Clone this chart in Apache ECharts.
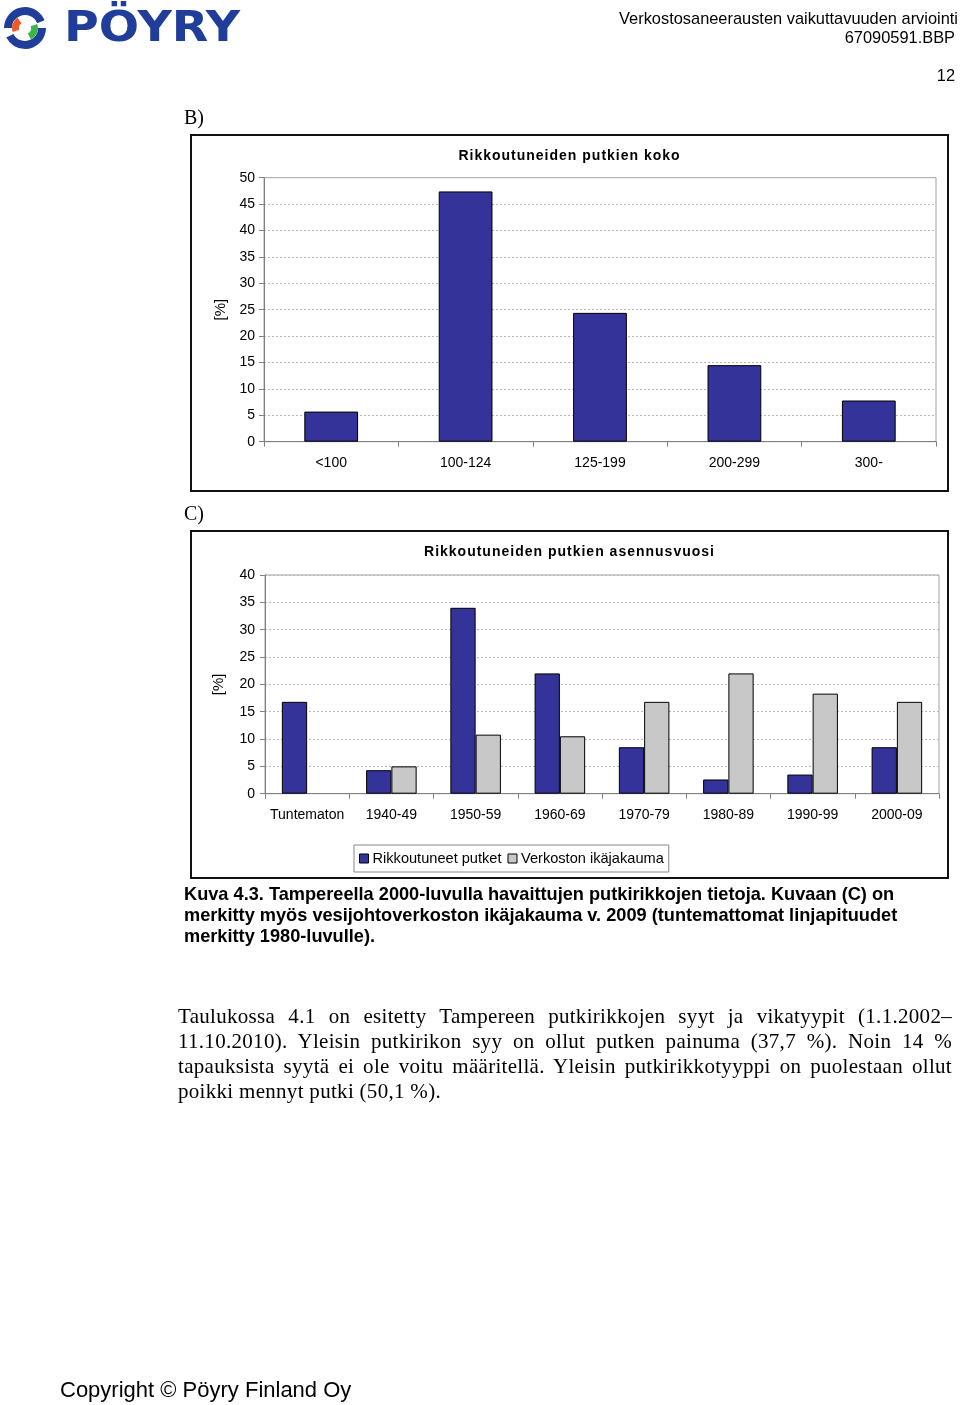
<!DOCTYPE html>
<html>
<head>
<meta charset="utf-8">
<script src="https://cdn.jsdelivr.net/npm/echarts@6/dist/echarts.min.js"></script>
<style>
  html, body { margin: 0; padding: 0; background: #fff; }
  #page { position: relative; width: 960px; height: 1405px; overflow: hidden; }
  #chart { position: absolute; left: 0; top: 0; width: 960px; height: 1405px; }
  .t { position: absolute; white-space: nowrap; color: #000; z-index: 2; }
  .sans { font-family: "Liberation Sans", Arial, sans-serif; }
  .serif { font-family: "Liberation Serif", "Times New Roman", serif; }
  .jl { display: block; width: 774px; text-align: justify; text-align-last: justify; white-space: normal; }
  .jl.last { text-align-last: left; }
  .ct { position: absolute; z-index: 2; font-family: "Liberation Sans", Arial, sans-serif; font-weight: bold; font-size: 14px; line-height: 18px; letter-spacing: 1px; text-align: center; width: 757px; left: 191px; color: #000; }
</style>
</head>
<body>
<div id="page">
  <div id="chart"></div>
  <div class="t sans" style="right:2px;top:8px;font-size:16.4px;line-height:20px;text-align:right;">Verkostosaneerausten vaikuttavuuden arviointi</div>
  <div class="t sans" style="right:5px;top:27px;font-size:16.4px;line-height:20px;text-align:right;">67090591.BBP</div>
  <div class="t sans" style="right:5px;top:65px;font-size:16.4px;line-height:20px;text-align:right;">12</div>
  <div class="t serif" style="left:184px;top:105px;font-size:20px;line-height:24px;">B)</div>
  <div class="t serif" style="left:184px;top:501px;font-size:20px;line-height:24px;">C)</div>
  <div id="titleB" class="ct" style="top:146px;"></div>
  <div id="titleC" class="ct" style="top:542px;"></div>
  <div class="t sans" style="left:184px;top:884px;font-size:18.2px;line-height:21px;font-weight:bold;">Kuva 4.3. Tampereella 2000-luvulla havaittujen putkirikkojen tietoja. Kuvaan (C) on<br>merkitty myös vesijohtoverkoston ikäjakauma v. 2009 (tuntemattomat linjapituudet<br>merkitty 1980-luvulle).</div>
  <div class="t serif" style="left:178px;top:1004px;font-size:21px;line-height:25px;letter-spacing:0.3px;">
    <span class="jl">Taulukossa 4.1 on esitetty Tampereen putkirikkojen syyt ja vikatyypit (1.1.2002–</span>
    <span class="jl">11.10.2010). Yleisin putkirikon syy on ollut putken painuma (37,7 %). Noin 14 %</span>
    <span class="jl">tapauksista syytä ei ole voitu määritellä. Yleisin putkirikkotyyppi on puolestaan ollut</span>
    <span class="jl last">poikki mennyt putki (50,1 %).</span>
  </div>
  <div class="t sans" style="left:60px;top:1377px;font-size:22px;line-height:26px;">Copyright © Pöyry Finland Oy</div>
</div>
<script>
// ---- data ----
const catB = ['<100', '100-124', '125-199', '200-299', '300-'];
const valB = [5.7, 47.4, 24.4, 14.5, 7.8];
const yMinB = 0, yMaxB = 50, yStepB = 5;

const catC = ['Tuntematon', '1940-49', '1950-59', '1960-69', '1970-79', '1980-89', '1990-99', '2000-09'];
const brokenC = [16.8, 4.3, 34.0, 22.0, 8.5, 2.6, 3.5, 8.5];
const networkC = [null, 5.0, 10.8, 10.5, 16.8, 22.0, 18.3, 16.8];
const yMinC = 0, yMaxC = 40, yStepC = 5;

const titleB = 'Rikkoutuneiden putkien koko';
const titleC = 'Rikkoutuneiden putkien asennusvuosi';
const nameBroken = 'Rikkoutuneet putket';
const nameNetwork = 'Verkoston ikäjakauma';
const yName = '[%]';

document.getElementById('titleB').textContent = titleB;
document.getElementById('titleC').textContent = titleC;

// ---- chart ----
const FONT = '"Liberation Sans", Arial, sans-serif';
const BLUE = '#333399';
const GRAY = '#c8c8c8';
const chart = echarts.init(document.getElementById('chart'), null, { renderer: 'canvas' });

function yAx(gi, min, max, step, gap, margin) {
  return {
    type: 'value', gridIndex: gi, min: min, max: max, interval: step,
    name: yName, nameLocation: 'middle', nameRotate: 90, nameGap: gap,
    nameTextStyle: { fontFamily: FONT, fontSize: 15, color: '#000' },
    axisLine: { show: true, lineStyle: { color: '#808080', width: 1 } },
    axisTick: { show: true, length: 5, lineStyle: { color: '#808080' } },
    axisLabel: { fontFamily: FONT, fontSize: 14, color: '#000', margin: margin },
    splitLine: { show: true, lineStyle: { color: '#b8b8b8', type: [2, 2], width: 1 } }
  };
}
function xAx(gi, cats) {
  return {
    type: 'category', gridIndex: gi, data: cats,
    axisLine: { show: true, lineStyle: { color: '#808080', width: 1 } },
    axisTick: { show: true, length: 5, alignWithLabel: false, lineStyle: { color: '#808080' } },
    axisLabel: { fontFamily: FONT, fontSize: 14, color: '#000', margin: 14, interval: 0 }
  };
}

const option = {
  animation: false,
  backgroundColor: '#fff',
  grid: [
    { left: 264, top: 177.7, width: 672, height: 264, show: true, borderColor: '#a0a0a0', borderWidth: 1, backgroundColor: 'transparent' },
    { left: 265, top: 575, width: 674, height: 218.7, show: true, borderColor: '#a0a0a0', borderWidth: 1, backgroundColor: 'transparent' }
  ],
  xAxis: [xAx(0, catB), xAx(1, catC)],
  yAxis: [yAx(0, yMinB, yMaxB, yStepB, 36, 9), yAx(1, yMinC, yMaxC, yStepC, 39, 10)],
  legend: {
    data: [nameBroken, nameNetwork],
    left: 354, top: 845, padding: [6, 5, 6, 5], itemGap: 6,
    icon: 'rect', itemWidth: 9, itemHeight: 9, itemStyle: { borderColor: '#000', borderWidth: 1 },
    borderColor: '#888', borderWidth: 1,
    textStyle: { fontFamily: FONT, fontSize: 14.6, color: '#000', padding: [0, 0, 0, -1] }
  },
  series: [
    { type: 'bar', xAxisIndex: 0, yAxisIndex: 0, data: valB, barWidth: '40%',
      itemStyle: { color: BLUE, borderColor: '#000', borderWidth: 1 } },
    { type: 'bar', name: nameBroken, xAxisIndex: 1, yAxisIndex: 1, data: brokenC,
      barGap: '0%', barCategoryGap: '40%',
      itemStyle: { color: BLUE, borderColor: '#000', borderWidth: 1 } },
    { type: 'bar', name: nameNetwork, xAxisIndex: 1, yAxisIndex: 1, data: networkC,
      barGap: '0%', barCategoryGap: '40%',
      itemStyle: { color: GRAY, borderColor: '#000', borderWidth: 1 } }
  ],
  graphic: [
    // chart frames
    { type: 'rect', shape: { x: 191, y: 135, width: 757, height: 356 }, style: { fill: 'none', stroke: '#111', lineWidth: 2 }, z: 0 },
    { type: 'rect', shape: { x: 191, y: 531, width: 757, height: 347 }, style: { fill: 'none', stroke: '#111', lineWidth: 2 }, z: 0 },
    // logo
    { type: 'sector', shape: { cx: 25, cy: 28, r0: 13, r: 21, startAngle: Math.PI * 1.0, endAngle: Math.PI * 1.88, clockwise: true }, style: { fill: '#1f3d99' } },
    { type: 'sector', shape: { cx: 25, cy: 28, r0: 13, r: 21, startAngle: Math.PI * 0.0, endAngle: Math.PI * 0.85, clockwise: true }, style: { fill: '#1f3d99' } },
    { type: 'sector', shape: { cx: 25, cy: 28, r0: 6, r: 13, startAngle: Math.PI * 0.9, endAngle: Math.PI * 1.3, clockwise: true }, style: { fill: '#ef5a28' } },
    { type: 'sector', shape: { cx: 25, cy: 28, r0: 6, r: 13, startAngle: Math.PI * -0.1, endAngle: Math.PI * 0.35, clockwise: true }, style: { fill: '#3db54a' } },
    { type: 'text', x: 64, y: 9, scaleX: 1.13, scaleY: 1, style: { text: 'PÖYRY', fill: '#1f3d99', font: 'bold 42px "DejaVu Sans", sans-serif' } }
  ]
};
chart.setOption(option);
</script>
</body>
</html>
